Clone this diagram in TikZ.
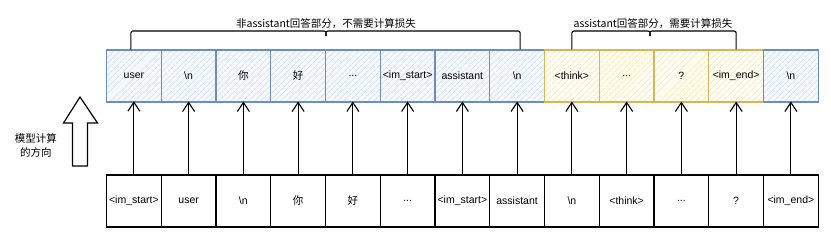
\documentclass[tikz,border=0pt]{standalone}
\usepackage{fontspec}
\setmainfont{Liberation Sans}
\newfontfamily\cjk{Noto Sans CJK SC}
\usetikzlibrary{arrows.meta,patterns.meta}
\newcommand\tokdots{...}
\definecolor{bluestroke}{HTML}{6C8EBF}
\definecolor{bluefill}{HTML}{F5F8FD}
\definecolor{bluehatch}{HTML}{C4D3EE}
\definecolor{yelstroke}{HTML}{D6B656}
\definecolor{yelfill}{HTML}{FFFCF0}
\definecolor{yelhatch}{HTML}{F2E0A0}
\tikzset{
  tokbase/.style={minimum width=54.75pt, minimum height=52pt, inner sep=0pt, line width=1.1pt, font=\fontsize{10.5}{12}\selectfont},
  tokblue/.style={tokbase, draw=bluestroke, preaction={fill=bluefill}, pattern={Lines[angle=45,distance=4pt,line width=0.5pt]}, pattern color=bluehatch},
  tokyel/.style={tokbase, draw=yelstroke, preaction={fill=yelfill}, pattern={Lines[angle=45,distance=4pt,line width=0.5pt]}, pattern color=yelhatch},
  tokplain/.style={tokbase, draw=black, fill=white},
  tokarrow/.style={line width=1.1pt, -{Straight Barb[length=9pt,width=12pt,line width=1.1pt]}},
  bracepath/.style={line width=1.1pt, rounded corners=2pt},
  bracelabel/.style={font=\cjk\fontsize{10.5}{12}\selectfont, inner sep=0pt},
  biglabel/.style={font=\cjk\fontsize{10.5}{14}\selectfont, align=center, inner sep=0pt},
  hollowarrow/.style={line width=1.2pt, draw=black, fill=white, line join=miter}
}
\begin{document}
\begin{tikzpicture}[x=1pt,y=-1pt]
\useasboundingbox (0,0) rectangle (831,243);
% top row
\foreach \i/\t/\s in {1/user/tokblue, 2/\textbackslash n/tokblue, 3/{\cjk 你}/tokblue, 4/{\cjk 好}/tokblue, 5/\tokdots/tokblue, 6/<im\_start>/tokblue, 7/assistant/tokblue, 8/\textbackslash n/tokblue, 9/<think>/tokyel, 10/\tokdots/tokyel, 11/?/tokyel, 12/<im\_end>/tokyel, 13/\textbackslash n/tokblue}
  \node[\s] (t\i) at ({106.5+(\i-0.5)*54.75}, 76) {\t};
% bottom row
\foreach \i/\t in {1/<im\_start>, 2/user, 3/\textbackslash n, 4/{\cjk 你}, 5/{\cjk 好}, 6/\tokdots, 7/<im\_start>, 8/assistant, 9/\textbackslash n, 10/<think>, 11/\tokdots, 12/?, 13/<im\_end>}
  \node[tokplain] (b\i) at ({106.5+(\i-0.5)*54.75}, 201) {\t};
% arrows
\foreach \i in {1,...,13}
  \draw[tokarrow] (b\i.north) -- ([yshift=1pt]t\i.south);
% braces
\coordinate (m1) at (326,36);
\coordinate (m2) at (650,36);
\draw[bracepath] ([xshift=-3pt]t1.north) |- ([xshift=-4pt,yshift=5pt]m1) .. controls ([yshift=5pt]m1) .. (m1);
\draw[bracepath] ([xshift=3pt]t8.north) |- ([xshift=4pt,yshift=5pt]m1) .. controls ([yshift=5pt]m1) .. (m1);
\draw[bracepath] (t9.north) |- ([xshift=-4pt,yshift=5pt]m2) .. controls ([yshift=5pt]m2) .. (m2);
\draw[bracepath] (t12.north) |- ([xshift=4pt,yshift=5pt]m2) .. controls ([yshift=5pt]m2) .. (m2);
\node[bracelabel] (l1) at (326,24) {非assistant回答部分，不需要计算损失};
\node[bracelabel] (l2) at (653,24) {assistant回答部分，需要计算损失};
% big hollow arrow
\draw[hollowarrow] (72.5,166) -- (72.5,123) -- (63.5,123) -- (80,97) -- (97.5,123) -- (87.5,123) -- (87.5,166) -- cycle;
\node[biglabel] (dir) at (36,145) {模型计算\\的方向};
\end{tikzpicture}
\end{document}
